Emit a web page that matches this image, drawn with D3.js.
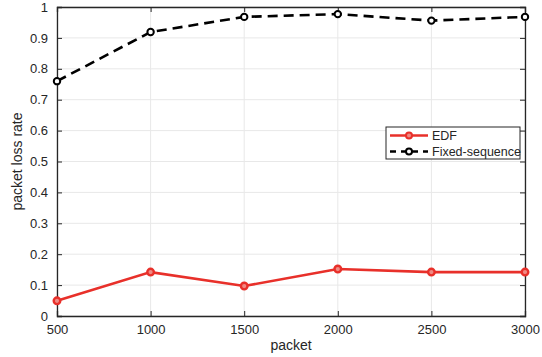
<!DOCTYPE html>
<html>
<head>
<meta charset="utf-8">
<script src="https://cdn.jsdelivr.net/npm/d3@7"></script>
<style>
  body { margin: 0; background: #fff; }
  svg text { font-family: "Liberation Sans", Arial, sans-serif; fill: #262626; }
</style>
</head>
<body>
<div id="chart"></div>
<script>
// data
var packets = [500, 1000, 1500, 2000, 2500, 3000];
var edf = [0.049, 0.142, 0.097, 0.152, 0.142, 0.142];
var fixedSeq = [0.760, 0.919, 0.968, 0.977, 0.956, 0.968];
var xTicks = [500, 1000, 1500, 2000, 2500, 3000];
var yTicks = [0, 0.1, 0.2, 0.3, 0.4, 0.5, 0.6, 0.7, 0.8, 0.9, 1];
var seriesNames = ["EDF", "Fixed-sequence"];

var W = 542, H = 357;
var m = {left: 57, right: 17, top: 7, bottom: 41};
var iw = W - m.left - m.right, ih = H - m.top - m.bottom;

var svg = d3.select("#chart").append("svg")
  .attr("width", W).attr("height", H);

var x = d3.scaleLinear().domain([500, 3000]).range([0, iw]);
var y = d3.scaleLinear().domain([0, 1]).range([ih, 0]);

var g = svg.append("g").attr("transform", "translate(" + m.left + "," + m.top + ")");

// grid
g.selectAll(".gx").data(xTicks).enter().append("line")
  .attr("x1", function (d) { return x(d); }).attr("x2", function (d) { return x(d); })
  .attr("y1", 0).attr("y2", ih)
  .attr("stroke", "#e8e8e8").attr("stroke-width", 1);
g.selectAll(".gy").data(yTicks).enter().append("line")
  .attr("y1", function (d) { return y(d); }).attr("y2", function (d) { return y(d); })
  .attr("x1", 0).attr("x2", iw)
  .attr("stroke", "#e8e8e8").attr("stroke-width", 1);

// axes
var xAxis = g.append("g").attr("transform", "translate(0," + ih + ")")
  .call(d3.axisBottom(x).tickValues(xTicks).tickSize(-5).tickPadding(9).tickFormat(d3.format("d")));
var xAxisTop = g.append("g")
  .call(d3.axisTop(x).tickValues(xTicks).tickSize(-5).tickFormat(""));
var yAxis = g.append("g")
  .call(d3.axisLeft(y).tickValues(yTicks).tickSize(-5).tickPadding(9).tickFormat(function (d) { return d3.format("")(d); }));
var yAxisRight = g.append("g").attr("transform", "translate(" + iw + ",0)")
  .call(d3.axisRight(y).tickValues(yTicks).tickSize(-5).tickFormat(""));

[xAxis, xAxisTop, yAxis, yAxisRight].forEach(function (a) {
  a.select(".domain").attr("stroke", "#262626").attr("stroke-width", 1.3);
  a.selectAll(".tick line").attr("stroke", "#262626");
  a.selectAll(".tick text").attr("font-size", "13px").attr("fill", "#262626");
});

// lines
var line = d3.line()
  .x(function (d, i) { return x(packets[i]); })
  .y(function (d) { return y(d); });

g.append("path").datum(fixedSeq)
  .attr("d", line).attr("fill", "none")
  .attr("stroke", "#000").attr("stroke-width", 2.6)
  .attr("stroke-dasharray", "10,6");
g.selectAll(".mfix").data(fixedSeq).enter().append("circle")
  .attr("cx", function (d, i) { return x(packets[i]); })
  .attr("cy", function (d) { return y(d); })
  .attr("r", 3.2).attr("fill", "#fff").attr("stroke", "#000").attr("stroke-width", 2);

g.append("path").datum(edf)
  .attr("d", line).attr("fill", "none")
  .attr("stroke", "#e8302a").attr("stroke-width", 2.6);
g.selectAll(".medf").data(edf).enter().append("circle")
  .attr("cx", function (d, i) { return x(packets[i]); })
  .attr("cy", function (d) { return y(d); })
  .attr("r", 3.3).attr("fill", "#f08a84").attr("stroke", "#e8302a").attr("stroke-width", 2.4);

// axis labels
svg.append("text").attr("x", m.left + iw / 2).attr("y", 350)
  .attr("text-anchor", "middle").attr("font-size", "14px").text("packet");
svg.append("text")
  .attr("transform", "translate(22," + (m.top + ih / 2) + ") rotate(-90)")
  .attr("text-anchor", "middle").attr("font-size", "14px").text("packet loss rate");

// legend
var lg = svg.append("g").attr("transform", "translate(386,127)");
lg.append("rect").attr("width", 134).attr("height", 32)
  .attr("fill", "#fff").attr("stroke", "#262626").attr("stroke-width", 1);
var legendItems = [
  {name: seriesNames[0], color: "#e8302a", dash: null, fill: "#f08a84"},
  {name: seriesNames[1], color: "#000", dash: "6,5", fill: "#fff"}
];
legendItems.forEach(function (it, i) {
  var yy = 8.5 + i * 16;
  lg.append("line").attr("x1", 4).attr("x2", 42).attr("y1", yy).attr("y2", yy)
    .attr("stroke", it.color).attr("stroke-width", 2.4)
    .attr("stroke-dasharray", it.dash);
  lg.append("circle").attr("cx", 23).attr("cy", yy).attr("r", 3)
    .attr("fill", it.fill).attr("stroke", it.color).attr("stroke-width", 2);
  lg.append("text").attr("x", 46).attr("y", yy + 4.5)
    .attr("font-size", "12.5px").text(it.name);
});
</script>
</body>
</html>
